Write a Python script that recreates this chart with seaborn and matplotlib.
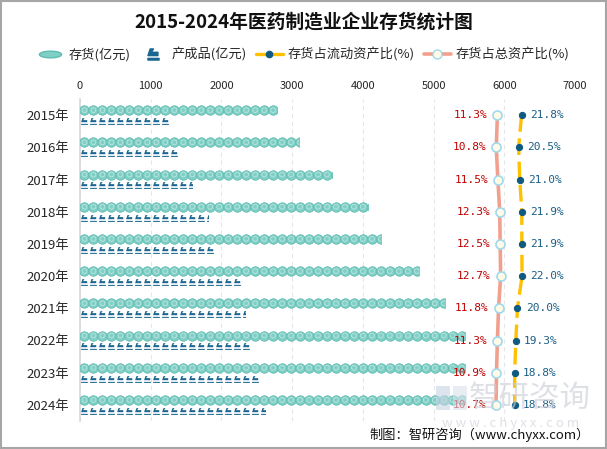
import numpy as np
import pandas as pd
import matplotlib.pyplot as plt
import seaborn as sns
from matplotlib.lines import Line2D
from matplotlib.patches import Rectangle
from matplotlib.path import Path

# ====================== DATA ======================
years = ['2015年', '2016年', '2017年', '2018年', '2019年',
         '2020年', '2021年', '2022年', '2023年', '2024年']
inventory = [2790, 3090, 3570, 4070, 4260, 4790, 5160, 5450, 5450, 5440]   # 存货(亿元)
finished = [1245, 1370, 1580, 1810, 1910, 2260, 2330, 2400, 2520, 2620]    # 产成品(亿元)
ratio_current = [21.8, 20.5, 21.0, 21.9, 21.9, 22.0, 20.0, 19.3, 18.8, 18.8]  # 存货占流动资产比(%)
ratio_total = [11.3, 10.8, 11.5, 12.3, 12.5, 12.7, 11.8, 11.3, 10.9, 10.7]    # 存货占总资产比(%)
x_ticks = [0, 1000, 2000, 3000, 4000, 5000, 6000, 7000]

series_names = ['存货(亿元)', '产成品(亿元)']

df = pd.DataFrame({
    'year': years * 2,
    'value': inventory + finished,
    'series': [series_names[0]] * len(years) + [series_names[1]] * len(years),
})

# ====================== STYLE ======================
sns.set_theme(style='white')
plt.rcParams['font.family'] = ['Noto Sans CJK SC', 'DejaVu Sans']

TEAL = '#80cfc6'
TEAL_EDGE = '#5ebcb1'
NAVY = '#1b6690'
YELLOW = '#FFC000'
SALMON = '#F2A08E'
DOT = '#0f5a80'
RED = '#C00000'
BLUE_TXT = '#1a5f86'

fig = plt.figure(figsize=(6.07, 4.49), dpi=100)
ax = fig.add_axes([80 / 607, 1 - 421 / 449, 495 / 607, 322 / 449])

# invisible bars, used as clip shapes for the repeated symbols
sns.barplot(data=df, x='value', y='year', hue='series', hue_order=series_names,
            orient='h', width=0.62, dodge=True, ax=ax, legend=False,
            palette=[TEAL, NAVY], alpha=0)

ax.set_xlim(0, 7000)
ax.set_xlabel('')
ax.set_ylabel('')
for s in ['top', 'right', 'bottom']:
    ax.spines[s].set_visible(False)
ax.spines['left'].set_color('#d9d9d9')
ax.grid(axis='x', color='#e6e6e6', linestyle=(0, (4, 3)), linewidth=0.8)
ax.set_axisbelow(True)

# custom "fa"-like glyph for finished goods
fa_marker = Path([(-1.0, -0.2), (-0.6, 1.0), (0.0, 1.0), (-0.4, 0.4), (0.8, 0.4), (0.8, -0.2), (-1.0, -0.2),
                  (-1.0, -0.7), (1.0, -0.7), (1.0, -1.0), (-1.0, -1.0), (-1.0, -0.7)],
                 [Path.MOVETO, Path.LINETO, Path.LINETO, Path.LINETO, Path.LINETO, Path.LINETO, Path.CLOSEPOLY,
                  Path.MOVETO, Path.LINETO, Path.LINETO, Path.LINETO, Path.CLOSEPOLY])
# flat ellipse for the legend
t = np.linspace(0, 2 * np.pi, 40)
ellipse_marker = Path(np.column_stack([np.cos(t), 0.3 * np.sin(t)]), closed=True)

step = 127
n = len(years)
for i, patch in enumerate(ax.patches):
    if patch.get_width() <= 0:
        continue
    yc = patch.get_y() + patch.get_height() / 2
    val = patch.get_width()
    xs = np.arange(step / 2, val + step / 2, step)
    ys = np.full_like(xs, yc, dtype=float)
    if i < n:
        sc1 = ax.scatter(xs, ys, s=46, color=TEAL, edgecolor=TEAL_EDGE, linewidth=0.6, zorder=3)
        sc2 = ax.scatter(xs, ys, s=12, facecolor='none', edgecolor='#b9e6e0', linewidth=0.6, zorder=4)
        sc1.set_clip_path(patch)
        sc2.set_clip_path(patch)
    else:
        sc = ax.scatter(xs, ys + 0.03, s=24, marker=fa_marker, color=NAVY, linewidth=0, zorder=3)
        sc.set_clip_path(patch)

# ====================== RATIO LINES ======================
ax2 = ax.twiny()
ax2.set_xlim(-170, 45)
ax2.set_axis_off()
ypos = np.arange(n)

sns.lineplot(x=ratio_total, y=ypos, orient='y', sort=False, ax=ax2, color=SALMON,
             linewidth=2.6, marker='o', markersize=6.5, markerfacecolor='#fffbe6',
             markeredgecolor='#9fd9ee', markeredgewidth=1.2, zorder=5)
sns.lineplot(x=ratio_current, y=ypos, orient='y', sort=False, ax=ax2, color=YELLOW,
             linewidth=2.4, linestyle=(0, (5, 2)), marker='o', markersize=4.5,
             markerfacecolor=DOT, markeredgecolor=DOT, zorder=5)

for y, v in zip(ypos, ratio_total):
    ax2.annotate(f'{v:.1f}%', (v, y), xytext=(-7, 0), textcoords='offset points',
                 ha='right', va='center', color=RED, fontsize=8, family='DejaVu Sans Mono')
for y, v in zip(ypos, ratio_current):
    ax2.annotate(f'{v:.1f}%', (v, y), xytext=(6, 0), textcoords='offset points',
                 ha='left', va='center', color=BLUE_TXT, fontsize=8, family='DejaVu Sans Mono')

# fix category range (shared y) and top x axis on the main axes (twiny resets it)
ax.set_ylim(n - 0.5, -0.5)
ax.xaxis.tick_top()
ax.set_xticks(x_ticks)
ax.tick_params(axis='x', which='both', top=True, bottom=False, labeltop=True, labelbottom=False,
               length=0, pad=6, labelsize=8)
ax.tick_params(axis='y', length=0, pad=8, labelsize=9.5)

# ====================== TITLE / LEGEND / NOTES ======================
fig.text(0.5, 1 - 22 / 449, '2015-2024年医药制造业企业存货统计图', ha='center', va='center',
         fontsize=13.5, fontweight='bold', color='#111111')

handles = [
    Line2D([], [], linestyle='none', marker=ellipse_marker, markersize=16, markerfacecolor=TEAL,
           markeredgecolor=TEAL_EDGE),
    Line2D([], [], linestyle='none', marker=fa_marker, markersize=8, color=NAVY),
    Line2D([], [], color=YELLOW, linewidth=2.4, marker='o', markersize=4.5,
           markerfacecolor=DOT, markeredgecolor=DOT),
    Line2D([], [], color=SALMON, linewidth=2.6, marker='o', markersize=6.5,
           markerfacecolor='#fffbe6', markeredgecolor='#9fd9ee'),
]
labels = ['存货(亿元)', '产成品(亿元)', '存货占流动资产比(%)', '存货占总资产比(%)']
fig.legend(handles, labels, loc='center', bbox_to_anchor=(0.5, 1 - 55 / 449), ncol=4,
           frameon=False, fontsize=9.5, handlelength=2.0, columnspacing=0.7, handletextpad=0.4)

# watermark
fig.patches.append(Rectangle((436 / 607, 1 - 410 / 449), 14 / 607, 24 / 449, transform=fig.transFigure,
                             facecolor='#c9d3e3', edgecolor='none', alpha=0.6, zorder=0))
fig.patches.append(Rectangle((453 / 607, 1 - 410 / 449), 14 / 607, 24 / 449, transform=fig.transFigure,
                             facecolor='#d9e1ec', edgecolor='none', alpha=0.6, zorder=0))
fig.text(530 / 607, 1 - 398 / 449, '智研咨询', ha='center', va='center', fontsize=22,
         color='#c8ccd6', alpha=0.6, zorder=0)
fig.text(511 / 607, 1 - 423 / 449, 'w w w . c h y x x . c o m', ha='center', va='center',
         fontsize=9.5, color='#c8ccd6', alpha=0.6, zorder=0)

fig.text(590 / 607, 1 - 435 / 449, '制图：智研咨询（www.chyxx.com）', ha='right', va='center',
         fontsize=9.5, color='#111111')

fig.patches.append(Rectangle((0.002, 0.002), 0.996, 0.996, transform=fig.transFigure,
                             fill=False, edgecolor='#a6a6a6', linewidth=1.5))

fig.savefig('out.png', dpi=100)
